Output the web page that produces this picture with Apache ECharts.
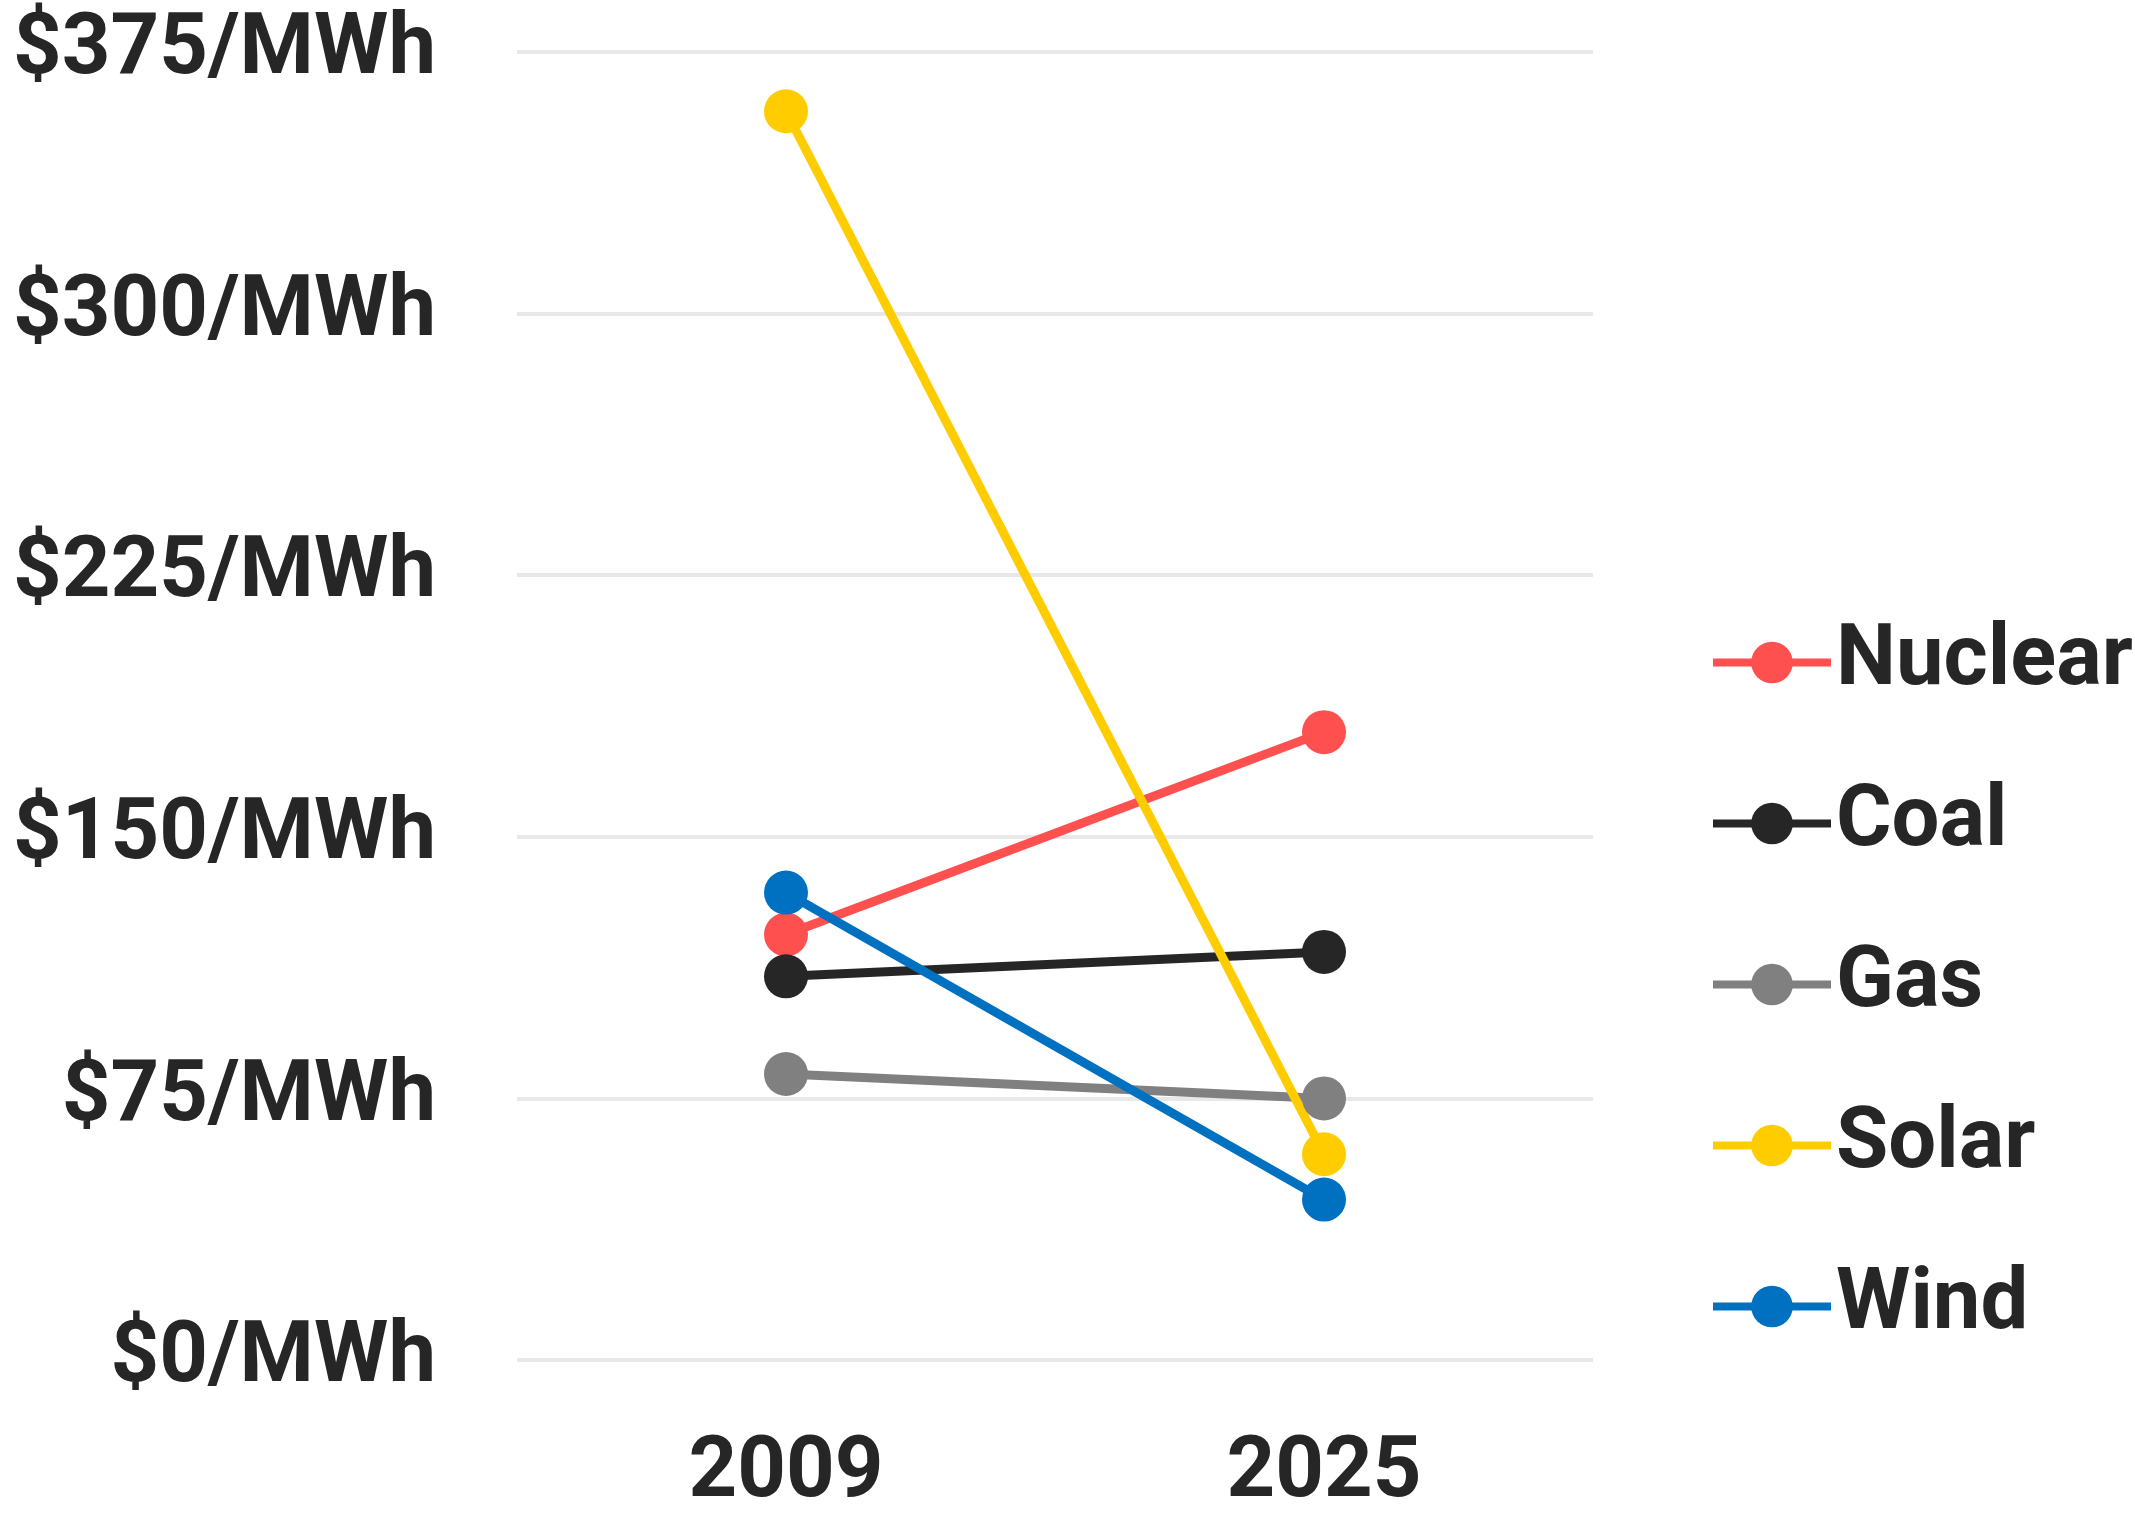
<!DOCTYPE html>
<html>
<head>
<meta charset="utf-8">
<title>Levelized cost of electricity, 2009 vs 2025</title>
<script src="https://cdn.jsdelivr.net/npm/echarts@6/dist/echarts.min.js"></script>
<style>
  html, body { margin: 0; padding: 0; background: #ffffff; }
  #chart { width: 2135px; height: 1517px; }
</style>
</head>
<body>
<div id="chart"></div>
<script>
// Years compared
var years = ['2009', '2025'];

// Cost per source, $/MWh
var nuclear = [122, 180];
var coal = [110, 117];
var gas = [82, 75];
var solar = [358, 59];
var wind = [134, 46];

var sourceNames = ['Nuclear', 'Coal', 'Gas', 'Solar', 'Wind'];
var sourceValues = [nuclear, coal, gas, solar, wind];
var sourceColors = ['#ff5050', '#262626', '#808080', '#ffcc00', '#0070c0'];

// Value axis ticks
var yMin = 0;
var yMax = 375;
var yStep = 75;

var FONT = 'Roboto, "Liberation Sans", Arial, sans-serif';

var series = sourceNames.map(function (name, i) {
  return {
    name: name,
    type: 'line',
    data: sourceValues[i],
    symbol: 'circle',
    symbolSize: 44,
    lineStyle: { width: 9, color: sourceColors[i] },
    itemStyle: { color: sourceColors[i] },
    emphasis: { disabled: true },
    animation: false
  };
});

var chart = echarts.init(document.getElementById('chart'), null, { renderer: 'canvas' });
chart.setOption({
  backgroundColor: '#ffffff',
  animation: false,
  grid: { left: 517, right: 542, top: 52, bottom: 149, containLabel: false },
  legend: {
    orient: 'vertical',
    left: 1704,
    top: 615,
    itemWidth: 118,
    itemHeight: 52,
    itemGap: 76,
    data: sourceNames,
    lineStyle: { width: 8 },
    textStyle: {
      fontFamily: FONT,
      fontWeight: 'bold',
      fontSize: 85,
      lineHeight: 85,
      color: '#262626'
    }
  },
  xAxis: {
    type: 'category',
    data: years,
    boundaryGap: true,
    axisLine: { show: false },
    axisTick: { show: false },
    axisLabel: {
      margin: 72,
      fontFamily: FONT,
      fontWeight: 'bold',
      fontSize: 85,
      color: '#262626'
    }
  },
  yAxis: {
    type: 'value',
    min: yMin,
    max: yMax,
    interval: yStep,
    axisLine: { show: false },
    axisTick: { show: false },
    splitLine: { lineStyle: { color: '#e8e8e8', width: 4 } },
    axisLabel: {
      margin: 81,
      fontFamily: FONT,
      fontWeight: 'bold',
      fontSize: 85,
      color: '#262626',
      formatter: function (v) { return '$' + v + '/MWh'; }
    }
  },
  series: series
});
</script>
</body>
</html>
